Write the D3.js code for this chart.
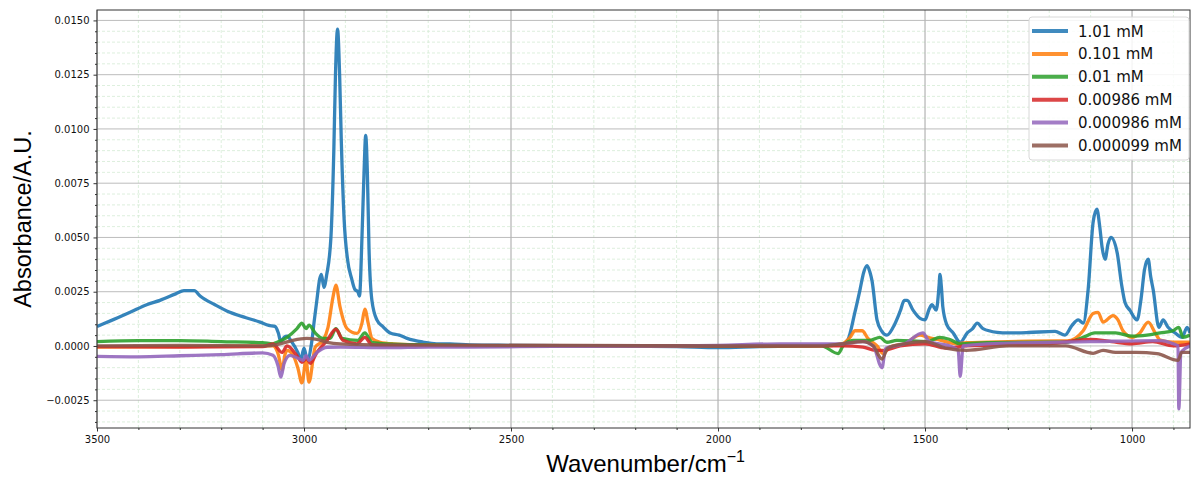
<!DOCTYPE html>
<html>
<head>
<meta charset="utf-8">
<script src="https://cdn.jsdelivr.net/npm/d3@7"></script>
<style>
  body { margin: 0; background: #fff; }
  svg { display: block; font-family: "DejaVu Sans", sans-serif; }
</style>
</head>
<body>
<svg width="1191" height="477"></svg>
<script>
// spectra: [wavenumber, absorbance]
var conc1 = [[3500,0.0009],[3450,0.0013],[3420,0.00155],[3380,0.0019],[3348,0.0021],[3310,0.0024],[3290,0.00255],[3265,0.00255],[3251,0.0023],[3215,0.0019],[3179,0.00155],[3140,0.0013],[3106,0.0011],[3085,0.00095],[3070,0.0009],[3062,0.0006],[3056,0.0002],[3048,0.0004],[3041,0.00045],[3030,0.0002],[3015,-0.0003],[3008,-0.00065],[3000,-0.0001],[2992,-0.00065],[2982,0.0001],[2975,0.0012],[2969,0.0021],[2962,0.0031],[2958,0.0033],[2952,0.0027],[2945,0.0033],[2935,0.005],[2928,0.009],[2924,0.0125],[2919,0.0146],[2914,0.0125],[2910,0.0095],[2903,0.0058],[2895,0.004],[2885,0.0031],[2877,0.0026],[2870,0.0025],[2866,0.0023],[2860,0.005],[2855,0.008],[2851,0.0097],[2847,0.008],[2843,0.0045],[2836,0.0021],[2824,0.0012],[2810,0.0009],[2792,0.0006],[2770,0.0005],[2751,0.00035],[2713,0.00018],[2680,0.0001],[2647,0.0001],[2600,0.00005],[2500,0.00003],[2300,0.0],[2100,-0.00003],[2000,-0.00008],[1900,-0.00003],[1800,0.0],[1720,0.00005],[1698,0.0001],[1686,0.0003],[1670,0.0015],[1657,0.0026],[1648,0.0034],[1640,0.0037],[1633,0.0034],[1628,0.003],[1616,0.0012],[1605,0.0007],[1592,0.0005],[1577,0.00086],[1560,0.0016],[1550,0.0021],[1543,0.0021],[1529,0.00165],[1512,0.00127],[1500,0.0012],[1490,0.0017],[1483,0.0019],[1473,0.00165],[1466,0.0028],[1464,0.0033],[1460,0.0026],[1457,0.0018],[1447,0.00096],[1432,0.0006],[1415,0.00017],[1398,0.0006],[1385,0.0008],[1374,0.00105],[1360,0.0008],[1326,0.00063],[1300,0.0006],[1250,0.00062],[1186,0.00067],[1162,0.0005],[1145,0.00095],[1130,0.0012],[1118,0.00105],[1106,0.0026],[1094,0.0057],[1085,0.0063],[1078,0.0055],[1072,0.0045],[1065,0.004],[1058,0.0047],[1051,0.005],[1036,0.0043],[1025,0.0028],[1017,0.002],[1005,0.00164],[988,0.0012],[978,0.0022],[970,0.0035],[961,0.004],[955,0.0032],[949,0.0026],[935,0.00086],[925,0.0012],[913,0.00086],[896,0.0006],[879,0.0004],[867,0.00086],[860,0.0006]];
var conc2 = [[3500,-0.00005],[3300,-0.00003],[3150,0.0],[3075,0.0],[3062,-0.0004],[3053,-0.0011],[3046,-0.0004],[3041,-0.0002],[3027,-0.0004],[3015,-0.001],[3005,-0.0017],[2995,-0.00066],[2988,-0.00167],[2973,-0.00006],[2954,0.00026],[2942,0.00086],[2930,0.00225],[2923,0.0028],[2913,0.0018],[2896,0.0008],[2872,0.00058],[2860,0.00105],[2853,0.0017],[2845,0.00105],[2836,0.00035],[2816,0.00017],[2785,0.0001],[2700,0.00005],[2600,0.0],[2400,0.0],[2000,0.0],[1750,0.0],[1700,0.0001],[1681,0.0004],[1669,0.0007],[1652,0.0007],[1638,0.00035],[1616,0.0],[1601,-0.00035],[1585,-0.00005],[1550,0.0001],[1512,0.0005],[1493,0.0004],[1470,0.0003],[1423,0.0001],[1400,0.00015],[1300,0.0002],[1180,0.00023],[1157,0.00023],[1118,0.0007],[1094,0.0015],[1082,0.00155],[1070,0.0011],[1046,0.0014],[1034,0.0012],[1022,0.0007],[1000,0.0004],[981,0.0006],[961,0.0011],[944,0.0006],[932,0.00027],[901,0.00017],[860,0.00017]];
var conc3 = [[3500,0.0002],[3400,0.00025],[3300,0.00025],[3200,0.0002],[3100,0.00015],[3075,0.0001],[3065,0.00017],[3041,0.0004],[3017,0.0008],[3005,0.00105],[2995,0.0008],[2988,0.00096],[2973,0.0006],[2954,0.00035],[2937,0.00035],[2923,0.0008],[2908,0.00035],[2870,0.00026],[2853,0.0006],[2836,0.00017],[2800,0.0001],[2700,0.00005],[2500,0.0],[2000,0.0],[1750,0.0],[1710,-0.00035],[1698,0.0],[1674,0.00026],[1633,0.00026],[1609,0.0004],[1592,0.00017],[1568,0.00026],[1495,0.0002],[1464,0.0004],[1440,0.0003],[1415,0.0001],[1350,0.00015],[1200,0.00017],[1160,0.00017],[1118,0.0004],[1090,0.0006],[1040,0.0006],[998,0.00045],[964,0.0005],[932,0.0006],[901,0.0007],[887,0.00086],[877,0.0004],[860,0.0005]];
var conc4 = [[3500,-0.00003],[3300,-0.00005],[3100,-0.00003],[3075,0.0001],[3053,-0.0003],[3041,0.0],[3017,-0.00045],[3005,-0.00075],[2993,-0.00057],[2985,-0.0008],[2969,-0.0003],[2944,0.00026],[2923,0.00077],[2906,0.00026],[2872,0.0001],[2853,0.0004],[2836,0.00005],[2800,0.0],[2000,0.0],[1700,0.0],[1650,-0.00005],[1620,-0.0002],[1600,-0.0002],[1560,0.0],[1500,0.0001],[1450,-0.0001],[1400,0.0],[1200,0.0001],[1100,0.0003],[1050,0.0002],[1000,0.0001],[950,0.0002],[900,0.0],[860,0.0001]];
var conc5 = [[3500,-0.00048],[3400,-0.0005],[3300,-0.00045],[3200,-0.0004],[3100,-0.00032],[3075,-0.00043],[3063,-0.0009],[3056,-0.00144],[3048,-0.0008],[3034,-0.00043],[3014,-0.00057],[3002,-0.00066],[2995,-0.00043],[2988,-0.00066],[2969,-0.0003],[2944,-0.00006],[2913,-0.00005],[2800,-0.00008],[2700,-0.00005],[2600,-0.00005],[2400,-0.00002],[2100,0.0],[2000,0.00003],[1850,0.0001],[1750,0.0001],[1700,0.0001],[1650,0.0002],[1625,0.0],[1604,-0.001],[1595,-0.0001],[1550,0.0001],[1505,0.0006],[1490,0.0002],[1440,0.0],[1420,-0.0002],[1415,-0.0014],[1408,0.0],[1350,0.0001],[1100,0.0002],[932,0.00025],[900,0.0001],[889,0.0],[887,-0.0029],[882,-0.0003],[860,0.0]];
var conc6 = [[3500,0.0],[3300,0.00003],[3100,0.0],[3058,0.0001],[3027,0.00026],[2993,0.00035],[2969,0.0003],[2944,0.00017],[2913,0.0001],[2800,0.00005],[2000,0.0],[1750,0.0],[1700,0.0001],[1650,0.0002],[1625,0.0],[1604,-0.0006],[1590,-0.0001],[1550,0.0001],[1500,0.0002],[1450,-0.0001],[1400,-0.0002],[1300,0.0],[1160,0.0],[1094,-0.00034],[1070,-0.0002],[1040,-0.0003],[990,-0.0003],[940,-0.00035],[889,-0.00066],[880,-0.0003],[860,-0.0003]];

var seriesNames = ["1.01 mM", "0.101 mM", "0.01 mM", "0.00986 mM", "0.000986 mM", "0.000099 mM"];
var seriesData = [conc1, conc2, conc3, conc4, conc5, conc6];
var colors = ["#1f77b4", "#ff7f0e", "#2ca02c", "#d62728", "#9467bd", "#8c564b"];
var xMajor = [3500, 3000, 2500, 2000, 1500, 1000];
var yMajor = [-0.0025, 0, 0.0025, 0.005, 0.0075, 0.01, 0.0125, 0.015];

var svg = d3.select("svg");
var pLeft = 97, pRight = 1190, pTop = 10, pBottom = 428;

var x = d3.scaleLinear().domain([3500, 860]).range([pLeft, pRight]);
var y = d3.scaleLinear().domain([-0.00378, 0.01548]).range([pBottom, pTop]);

var xMinor = d3.range(900, 3501, 100).filter(function (d) { return d % 500 != 0; });
var yMinor = d3.range(-35, 155, 5).map(function (d) { return d / 10000; })
    .filter(function (d) { return Math.abs(Math.round(d * 10000) % 25) != 0; });

// minor grid
var grid = svg.append("g");
grid.selectAll(".gxm").data(xMinor).enter().append("line")
    .attr("x1", d => x(d)).attr("x2", d => x(d))
    .attr("y1", pTop).attr("y2", pBottom)
    .style("stroke", "#d4ebd4").style("stroke-width", 0.8).style("stroke-dasharray", "3,2");
grid.selectAll(".gym").data(yMinor).enter().append("line")
    .attr("x1", pLeft).attr("x2", pRight)
    .attr("y1", d => y(d)).attr("y2", d => y(d))
    .style("stroke", "#d4ebd4").style("stroke-width", 0.8).style("stroke-dasharray", "3,2");
// major grid
grid.selectAll(".gx").data(xMajor).enter().append("line")
    .attr("x1", d => x(d)).attr("x2", d => x(d))
    .attr("y1", pTop).attr("y2", pBottom)
    .style("stroke", "#999").style("stroke-width", 0.9);
grid.selectAll(".gy").data(yMajor).enter().append("line")
    .attr("x1", pLeft).attr("x2", pRight)
    .attr("y1", d => y(d)).attr("y2", d => y(d))
    .style("stroke", "#b4b4b4").style("stroke-width", 0.9);

svg.append("clipPath").attr("id", "clip")
    .append("rect").attr("x", pLeft).attr("y", pTop).attr("width", pRight - pLeft).attr("height", pBottom - pTop);

var line = d3.line()
    .x(d => x(d[0]))
    .y(d => y(d[1]))
    .curve(d3.curveMonotoneX);

svg.append("g").attr("clip-path", "url(#clip)")
    .selectAll("path")
    .data(seriesData)
    .enter().append("path")
    .attr("d", d => line(d))
    .style("fill", "none")
    .style("stroke", (d, i) => colors[i])
    .style("stroke-width", 3.3)
    .style("stroke-linejoin", "round")
    .style("opacity", 0.9);

// axes
var fmtY = function (d) { return d3.format(".4f")(d).replace("-", "\u2212"); };
svg.append("g").attr("transform", "translate(0," + pBottom + ")")
    .call(d3.axisBottom(x).tickValues(xMajor).tickSize(3.5).tickPadding(4).tickFormat(d3.format("d")));
svg.append("g").attr("transform", "translate(0," + pBottom + ")")
    .call(d3.axisBottom(x).tickValues(xMinor).tickSize(2).tickFormat(""));
svg.append("g").attr("transform", "translate(" + pLeft + ",0)")
    .call(d3.axisLeft(y).tickValues(yMajor).tickSize(3.5).tickPadding(4).tickFormat(fmtY));
svg.append("g").attr("transform", "translate(" + pLeft + ",0)")
    .call(d3.axisLeft(y).tickValues(yMinor).tickSize(2).tickFormat(""));

svg.selectAll(".domain").remove();
svg.selectAll(".tick line").style("stroke", "#333");
svg.selectAll(".tick text").style("font-family", "DejaVu Sans").style("font-size", "10px").style("fill", "#111");

// frame
svg.append("rect").attr("x", pLeft).attr("y", pTop).attr("width", pRight - pLeft).attr("height", pBottom - pTop)
    .style("fill", "none").style("stroke", "#333").style("stroke-width", 1);

// labels
svg.append("text")
    .attr("transform", "translate(31," + ((pTop + pBottom) / 2) + ") rotate(-90)")
    .attr("text-anchor", "middle")
    .style("font-family", "Liberation Sans, Arial, sans-serif")
    .style("font-size", "23.5px")
    .text("Absorbance/A.U.");

var xl = svg.append("text")
    .attr("x", (pLeft + pRight) / 2 + 2)
    .attr("y", 472)
    .attr("text-anchor", "middle")
    .style("font-family", "Liberation Sans, Arial, sans-serif")
    .style("font-size", "24px");
xl.append("tspan").text("Wavenumber/cm");
xl.append("tspan").attr("dy", -10).style("font-size", "16px").text("\u22121");

// legend
var lg = svg.append("g");
lg.append("rect").attr("x", 1029).attr("y", 17).attr("width", 160).attr("height", 143)
    .attr("rx", 3).style("fill", "#fff").style("fill-opacity", 0.85)
    .style("stroke", "#d8d8d8").style("stroke-width", 1);
var items = lg.selectAll(".item").data(seriesNames).enter().append("g")
    .attr("transform", (d, i) => "translate(0," + (31 + i * 22.9) + ")");
items.append("line").attr("x1", 1032).attr("x2", 1068).attr("y1", 0).attr("y2", 0)
    .style("stroke", (d, i) => colors[i]).style("stroke-width", 4).style("opacity", 0.85);
items.append("text").attr("x", 1078).attr("y", 5.5)
    .style("font-family", "DejaVu Sans").style("font-size", "15px").style("fill", "#111")
    .text(d => d);
</script>
</body>
</html>
